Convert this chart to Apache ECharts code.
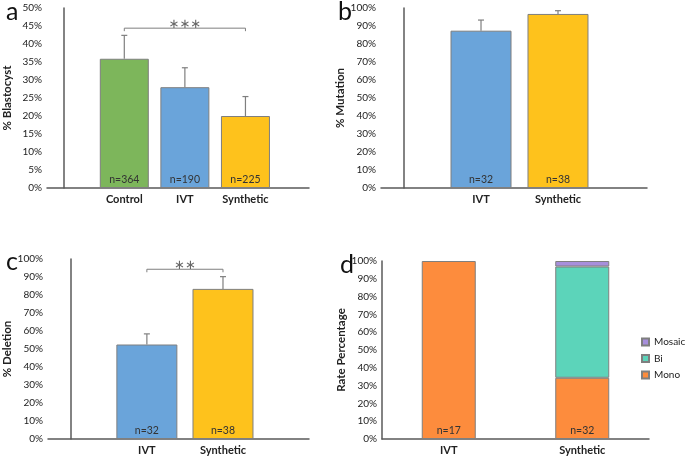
<!DOCTYPE html>
<html><head><meta charset="utf-8">
<script src="https://cdn.jsdelivr.net/npm/echarts@6/dist/echarts.min.js"></script>
<style>html,body{margin:0;padding:0;background:#fff}#c{width:685px;height:456px}</style>
</head><body><div id="c"></div>
<script>
// ---- data ----
const catsA = ['Control', 'IVT', 'Synthetic'];
const blastocyst = [35.9, 28.0, 20.0];
const blastocystErr = [6.5, 5.4, 5.4];
const nA = ['n=364', 'n=190', 'n=225'];

const catsB = ['IVT', 'Synthetic'];
const mutation = [87.4, 96.7];
const mutationErr = [5.9, 1.8];
const nB = ['n=32', 'n=38'];

const catsC = ['IVT', 'Synthetic'];
const deletion = [52.5, 83.4];
const deletionErr = [5.9, 6.8];
const nC = ['n=32', 'n=38'];

const catsD = ['IVT', 'Synthetic'];
const mono = [100, 34.4];
const bi = [0, 62.5];
const mosaic = [0, 3.1];
const nD = ['n=17', 'n=32'];

const sigA = ['***', 1, 3, 44.4];   // label, from category #, to category #, height %
const sigC = ['**', 1, 2, 94.3];

const yTicks5 = 5, yTicks10 = 10;

// ---- styles ----
const FONT = 'Lato';
const AX = '#5a5a5a';
const BORDER = '#7f7f7f';
const GREEN = '#7db65b', BLUE = '#6aa4da', YELLOW = '#fec21c';
const ORANGE = '#fd8c3d', TEAL = '#5cd4ba', PURPLE = '#a78fdc';

const pos = arr => arr.map((_, i) => i + 1);
const pairs = (xs, ys) => xs.map((x, i) => [x, ys[i]]);

const xLabelStyle = { fontFamily: FONT, fontWeight: 'bold', fontSize: 11, color: '#222', margin: 6 };
function xAxis(gi, cats, min, max) {
  return {
    type: 'value', gridIndex: gi, min: min, max: max,
    axisLine: { show: true, lineStyle: { color: AX, width: 1.5 } },
    axisTick: { show: false }, splitLine: { show: false },
    axisLabel: Object.assign({
      customValues: pos(cats), formatter: v => cats[Math.round(v) - 1] || ''
    }, xLabelStyle)
  };
}
function yAxis(gi, name, max, interval, gap) {
  return {
    type: 'value', gridIndex: gi, min: 0, max: max, interval: interval,
    name: name, nameLocation: 'middle', nameGap: gap,
    nameTextStyle: { fontFamily: FONT, fontWeight: 'bold', fontSize: 11.5, color: '#222' },
    axisLine: { show: true, lineStyle: { color: AX, width: 1.5 } },
    axisTick: { show: false }, splitLine: { show: false },
    axisLabel: { formatter: '{value}%', fontFamily: FONT, fontSize: 10, color: '#222', margin: 5 }
  };
}
function nLabel(labels) {
  return labels ? {
    show: true, position: 'insideBottom', distance: 3,
    formatter: p => labels[p.dataIndex], fontFamily: FONT, fontSize: 10.5, color: '#333'
  } : { show: false };
}
function barSeries(gi, xs, ys, colors, labels, width) {
  return {
    type: 'bar', xAxisIndex: gi, yAxisIndex: gi, barWidth: width,
    data: pairs(xs, ys).map((d, i) => ({ value: d, itemStyle: { color: colors[i] } })),
    itemStyle: { borderColor: BORDER, borderWidth: 1 },
    label: nLabel(labels), z: 2
  };
}
function stackSeries(name, ys, color, labels) {
  return {
    type: 'bar', name: name, stack: 'd', xAxisIndex: 3, yAxisIndex: 3, barWidth: 54,
    data: ys.map(v => (v === 0 ? '-' : v)),   // empty segments are not drawn
    itemStyle: { color: color, borderColor: BORDER, borderWidth: 1 },
    label: nLabel(labels), z: 2
  };
}
function errRender(params, api) {
  const x = api.value(0), v = api.value(1), e = api.value(2);
  const p0 = api.coord([x, v]), p1 = api.coord([x, v + e]);
  const st = { stroke: BORDER, lineWidth: 1.2 };
  return { type: 'group', children: [
    { type: 'line', shape: { x1: p0[0], y1: p0[1], x2: p1[0], y2: p1[1] }, style: st },
    { type: 'line', shape: { x1: p1[0] - 3, y1: p1[1], x2: p1[0] + 3, y2: p1[1] }, style: st }
  ]};
}
function errSeries(gi, xs, ys, es) {
  return {
    type: 'custom', xAxisIndex: gi, yAxisIndex: gi, renderItem: errRender,
    data: xs.map((x, i) => [x, ys[i], es[i]]), encode: { x: 0, y: 1 }, z: 3, silent: true
  };
}
function sigRender(params, api) {
  const a = api.coord([api.value(1), api.value(3)]);
  const b = api.coord([api.value(2), api.value(3)]);
  return { type: 'group', children: [
    { type: 'polyline', shape: { points: [[a[0], a[1] + 3], [a[0], a[1]], [b[0], b[1]], [b[0], b[1] + 3]] },
      style: { stroke: BORDER, lineWidth: 1, fill: null } },
    { type: 'text', style: { text: api.value(0), x: (a[0] + b[0]) / 2, y: a[1] - 4,
      align: 'center', verticalAlign: 'middle', fontFamily: 'DejaVu Sans', fontSize: 13, fill: '#666' } }
  ]};
}
function sigSeries(gi, sig) {
  return {
    type: 'custom', xAxisIndex: gi, yAxisIndex: gi, renderItem: sigRender,
    data: [sig.map((v, i) => i === 0 ? v.replace(/\*/g, '\u2217') : v)],
    dimensions: [{ name: 'lab', type: 'ordinal' }, 'x1', 'x2', 'y'],
    encode: { x: [1, 2], y: 3 }, z: 4, silent: true
  };
}
const letter = (t, l, tp) => ({ text: t, left: l, top: tp,
  textStyle: { fontFamily: FONT, fontWeight: 'normal', fontSize: 25, color: '#111' } });

const option = {
  animation: false,
  title: [letter('a', 1, -6), letter('b', 333, -6), letter('c', 1, 244), letter('d', 335, 247)],
  grid: [
    { left: 43, top: 8, width: 266, height: 180 },
    { left: 381, top: 8, width: 266, height: 180 },
    { left: 45, top: 259, width: 264, height: 181 },
    { left: 382, top: 261, width: 267, height: 179 }
  ],
  xAxis: [
    xAxis(0, catsA, -0.276, 4.049),
    xAxis(1, catsB, -0.299, 3.156),
    xAxis(2, catsC, -0.299, 3.13),
    {
      type: 'category', gridIndex: 3, data: catsD, boundaryGap: true,
      axisLine: { show: true, lineStyle: { color: AX, width: 1.5 } },
      axisTick: { show: false }, splitLine: { show: false },
      axisLabel: Object.assign({ interval: 0 }, xLabelStyle)
    }
  ],
  yAxis: [
    yAxis(0, '% Blastocyst', 50, yTicks5, 34),
    yAxis(1, '% Mutation', 100, yTicks10, 32),
    yAxis(2, '% Deletion', 100, yTicks10, 35),
    yAxis(3, 'Rate Percentage', 100, yTicks10, 35)
  ],
  legend: {
    data: ['Mosaic', 'Bi', 'Mono'], orient: 'vertical', left: 641, top: 336, padding: 0,
    itemWidth: 7, itemHeight: 7, itemGap: 4.5, icon: 'rect',
    textStyle: { fontFamily: FONT, fontSize: 10, color: '#222', lineHeight: 12 }
  },
  series: [
    barSeries(0, pos(catsA), blastocyst, [GREEN, BLUE, YELLOW], nA, 49),
    errSeries(0, pos(catsA), blastocyst, blastocystErr),
    sigSeries(0, sigA),
    barSeries(1, pos(catsB), mutation, [BLUE, YELLOW], nB, 61),
    errSeries(1, pos(catsB), mutation, mutationErr),
    barSeries(2, pos(catsC), deletion, [BLUE, YELLOW], nC, 61),
    errSeries(2, pos(catsC), deletion, deletionErr),
    sigSeries(2, sigC),
    stackSeries('Mono', mono, ORANGE, nD),
    stackSeries('Bi', bi, TEAL, null),
    stackSeries('Mosaic', mosaic, PURPLE, null)
  ]
};
const chart = echarts.init(document.getElementById('c'), null, { renderer: 'canvas' });
chart.setOption(option);
</script>
</body></html>
